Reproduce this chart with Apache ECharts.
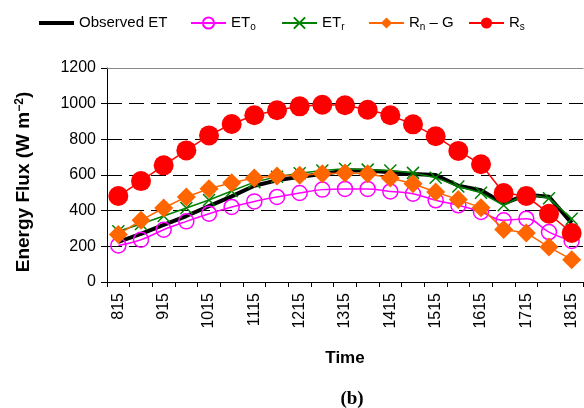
<!DOCTYPE html>
<html>
<head>
<meta charset="utf-8">
<script src="https://cdn.jsdelivr.net/npm/echarts@6/dist/echarts.min.js"></script>
<style>
html,body{margin:0;padding:0;background:#fff;}
#chart{width:584px;height:408px;}
</style>
</head>
<body>
<div id="chart"></div>
<script>
// ---- data ----
var categories = ['815','845','915','945','1015','1045','1115','1145','1215','1245','1315','1345','1415','1445','1515','1545','1615','1645','1715','1745','1815'];
var observedET = [225,270,320,370,425,480,540,570,590,605,625,625,615,605,600,540,515,440,490,478,330];
var ETo        = [205,237,293,340,383,421,452,477,499,518,522,522,508,495,458,430,393,346,355,280,230];
var ETr        = [285,325,370,415,460,510,560,590,610,625,635,630,625,612,585,535,500,430,495,470,355];
var RnG        = [267,346,415,477,523,557,583,594,598,607,611,607,583,551,505,462,417,295,275,196,125];
var Rs         = [482,566,654,738,822,886,935,963,985,994,991,966,935,884,817,735,660,499,482,383,275];
var yTicks = {min:0, max:1200, interval:200};

var FONT = 'Liberation Sans';
var chart = echarts.init(document.getElementById('chart'), null, {renderer:'canvas'});

var legendText = {
  fontFamily: FONT, fontSize: 15, color: '#000', lineHeight: 18,
  rich: {
    sub: {fontFamily: FONT, fontSize: 10, color:'#000', verticalAlign:'bottom', lineHeight: 10}
  }
};
var legendNames = {
  'Observed ET': 'Observed ET',
  'ETo': 'ET{sub|o}',
  'ETr': 'ET{sub|r}',
  'Rn – G': 'R{sub|n} – G',
  'Rs': 'R{sub|s}'
};
function mkLegend(name, left, extra) {
  var l = {
    data: [name], left: left, top: 14, padding: 0, itemGap: 0,
    itemWidth: 35, itemHeight: 14, textStyle: legendText,
    formatter: function (n) { return legendNames[n]; }
  };
  if (extra) { for (var k in extra) l[k] = extra[k]; }
  return l;
}

var xPath = 'path://M0,0L10,10M10,0L0,10';

var option = {
  animation: false,
  backgroundColor: '#fff',
  legend: [
    mkLegend('Observed ET', 37, {itemStyle: {color: 'rgba(0,0,0,0)', borderWidth: 0},
      lineStyle: {color: '#000', width: 4}}),
    mkLegend('ETo', 190),
    mkLegend('ETr', 281),
    mkLegend('Rn – G', 368),
    mkLegend('Rs', 468)
  ],
  grid: {left: 107, right: 1, top: 68, bottom: 126, containLabel: false},
  xAxis: [{
    type: 'category',
    data: categories,
    boundaryGap: true,
    axisLine: {lineStyle: {color: '#000', width: 1}},
    axisTick: {show: true, interval: 0, length: 5, lineStyle: {color: '#000'}},
    axisLabel: {interval: 1, rotate: 90, margin: 11, color: '#000', fontFamily: FONT, fontSize: 16},
    splitLine: {show: false},
    name: 'Time',
    nameLocation: 'middle',
    nameGap: 68,
    nameTextStyle: {fontFamily: FONT, fontSize: 17, fontWeight: 'bold', color: '#000'}
  }, {
    type: 'category',
    data: categories,
    position: 'top',
    axisLine: {lineStyle: {color: '#8a8a8a', width: 1}},
    axisTick: {show: false},
    axisLabel: {show: false},
    splitLine: {show: false}
  }],
  yAxis: {
    type: 'value',
    min: yTicks.min, max: yTicks.max, interval: yTicks.interval,
    axisLine: {show: true, lineStyle: {color: '#000', width: 1}},
    axisTick: {show: true, length: 6, lineStyle: {color: '#000'}},
    axisLabel: {margin: 11, color: '#000', fontFamily: FONT, fontSize: 16,
      formatter: function (v) { return String(v); }},
    splitLine: {show: true, showMinLine: false, showMaxLine: false,
      lineStyle: {color: '#000', width: 1, type: [15, 7]}},
    name: 'Energy Flux (W m{sup|−2})',
    nameLocation: 'middle',
    nameGap: 74,
    nameTextStyle: {fontFamily: FONT, fontSize: 19, fontWeight: 'bold', color: '#000',
      padding: [0, 14, 0, 0],
      rich: {sup: {fontFamily: FONT, fontSize: 12, fontWeight: 'bold', color:'#000', verticalAlign: 'top', lineHeight: 12}}}
  },
  graphic: [{
    type: 'text',
    style: {text: '(b)', x: 352, y: 399, align: 'center', verticalAlign: 'middle',
      fontFamily: 'Liberation Serif', fontSize: 19, fontWeight: 'bold', fill: '#000'}
  }],
  series: [
    {
      name: 'Observed ET', type: 'line', data: observedET,
      symbol: 'none', lineStyle: {color: '#000', width: 4}, itemStyle: {color: '#000'}, z: 2
    },
    {
      name: 'ETo', type: 'line', data: ETo, smooth: 0.4, showAllSymbol: true,
      symbol: 'circle', symbolSize: 15,
      itemStyle: {color: 'rgba(255,255,255,0)', borderColor: '#ff00ff', borderWidth: 1.5},
      lineStyle: {color: '#ff00ff', width: 1.5}, z: 3
    },
    {
      name: 'ETr', type: 'line', data: ETr, showAllSymbol: true,
      symbol: xPath, symbolSize: 12,
      itemStyle: {color: 'rgba(0,0,0,0)', borderColor: '#008000', borderWidth: 1.5},
      lineStyle: {color: '#008000', width: 1.5}, z: 2
    },
    {
      name: 'Rn – G', type: 'line', data: RnG, showAllSymbol: true,
      symbol: 'diamond', symbolSize: 19,
      itemStyle: {color: '#ff6600'},
      lineStyle: {color: '#ff6600', width: 1.5}, z: 4
    },
    {
      name: 'Rs', type: 'line', data: Rs, showAllSymbol: true,
      symbol: 'circle', symbolSize: 20,
      itemStyle: {color: '#ff0000'},
      lineStyle: {color: '#ff0000', width: 1.5}, z: 5
    }
  ]
};
chart.setOption(option);
</script>
</body>
</html>
